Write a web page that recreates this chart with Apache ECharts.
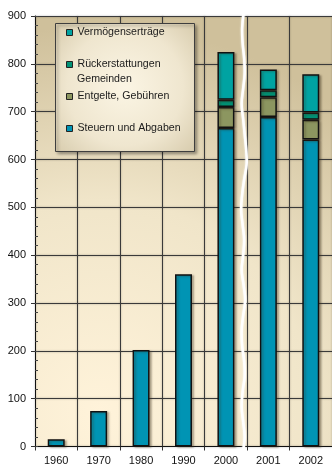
<!DOCTYPE html>
<html>
<head>
<meta charset="utf-8">
<script src="https://cdn.jsdelivr.net/npm/echarts@6/dist/echarts.min.js"></script>
<style>
  html, body { margin: 0; padding: 0; background: #ffffff; }
  #chart { width: 332px; height: 467px; }
</style>
</head>
<body>
<div id="chart"></div>
<script>
// Einnahmen nach Herkunft (Mio.)
const jahre = ['1960', '1970', '1980', '1990', '2000', '2001', '2002'];
const steuern = [15, 74, 202, 360, 666, 689, 642];
const entgelte = [null, null, null, null, 44, 41, 41];
const rueckerstattungen = [null, null, null, null, 15, 15, 15];
const vermoegen = [null, null, null, null, 100, 43, 80];
const yTicks = [0, 100, 200, 300, 400, 500, 600, 700, 800, 900];

const FONT = '"Liberation Sans", Arial, sans-serif';

const chart = echarts.init(document.getElementById('chart'), null, { renderer: 'canvas' });

function barSeries(name, data, color) {
  return {
    name: name,
    type: 'bar',
    stack: 'gesamt',
    data: data,
    barWidth: '40%',
    itemStyle: {
      color: color,
      borderColor: '#111111',
      borderWidth: 1.5,
      shadowColor: 'rgba(60,50,30,0.35)',
      shadowBlur: 2,
      shadowOffsetX: 2,
      shadowOffsetY: 1
    },
    z: 3
  };
}

const option = {
  animation: false,
  backgroundColor: '#ffffff',
  grid: {
    left: 35,
    top: 16,
    width: 298.5,
    bottom: 20.5,
    show: true,
    borderWidth: 0,
    backgroundColor: {
      type: 'radial', x: 0.22, y: 0.92, r: 1.3,
      colorStops: [
        { offset: 0, color: '#fff3da' },
        { offset: 0.55, color: '#f0e5c9' },
        { offset: 1, color: '#cfc09b' }
      ]
    }
  },
  legend: {
    orient: 'vertical',
    left: 66,
    top: 25,
    padding: 0,
    itemWidth: 6,
    itemHeight: 6,
    itemGap: 17,
    icon: 'rect',
    itemStyle: { borderColor: '#222222', borderWidth: 1 },
    textStyle: { fontFamily: FONT, fontSize: 10.6, color: '#1a1a1a', lineHeight: 15 },
    // zweite Zeile "Gemeinden" steht als eigener Text darunter
    formatter: function (name) {
      return name === 'Rückerstattungen Gemeinden' ? 'Rückerstattungen' : name;
    },
    data: ['Vermögenserträge', 'Rückerstattungen Gemeinden', 'Entgelte, Gebühren', 'Steuern und Abgaben'],
    z: 10
  },
  xAxis: {
    type: 'category',
    data: jahre,
    boundaryGap: true,
    axisLine: { lineStyle: { color: '#111111', width: 1 } },
    axisTick: { show: true, length: 4, alignWithLabel: false, lineStyle: { color: '#333333' } },
    axisLabel: { fontFamily: FONT, fontSize: 11, color: '#111111', margin: 9 },
    splitLine: {
      show: true,
      lineStyle: { color: '#3a3a3a', width: 1, shadowColor: 'rgba(0,0,0,0.35)', shadowBlur: 2 }
    }
  },
  yAxis: [
    {
      type: 'value',
      min: 0, max: 900, interval: 100,
      axisLine: { show: true, lineStyle: { color: '#111111', width: 1 } },
      axisTick: { show: true, length: 4, lineStyle: { color: '#333333' } },
      axisLabel: {
        fontFamily: FONT, fontSize: 11, color: '#111111', margin: 9,
        formatter: function (v) { return yTicks.indexOf(v) >= 0 ? String(v) : ''; }
      },
      splitLine: {
        show: true,
        lineStyle: { color: '#3a3a3a', width: 1, shadowColor: 'rgba(0,0,0,0.35)', shadowBlur: 2 }
      }
    },
    {
      // Zwischenstriche (alle 20) innen an der Achse
      type: 'value',
      min: 0, max: 900, interval: 20,
      position: 'left',
      axisLine: { show: false },
      axisTick: { show: true, inside: true, length: 3, lineStyle: { color: '#444444' } },
      axisLabel: { show: false },
      splitLine: { show: false }
    }
  ],
  series: [
    barSeries('Steuern und Abgaben', steuern, '#0094b4'),
    barSeries('Entgelte, Gebühren', entgelte, '#8c9660'),
    barSeries('Rückerstattungen Gemeinden', rueckerstattungen, '#009275'),
    barSeries('Vermögenserträge', vermoegen, '#00a3a2')
  ]
};

chart.setOption(option);

// Legendenrahmen, zweite Legendenzeile und Achsenbruch zwischen 2000 und 2001
const x2000 = chart.convertToPixel({ xAxisIndex: 0 }, '2000');
const x2001 = chart.convertToPixel({ xAxisIndex: 0 }, '2001');
const bruchX = (x2000 + x2001) / 2 - 4.5;
const yOben = chart.convertToPixel({ yAxisIndex: 0 }, 900) - 3;
const yUnten = 467;
const welle = [1, -0.5, 0, 1.5, 2, 0.5, -1, 0.5, 2, 3.5, 4, 1.5, -0.5, -1.5, 0, 1.5, 0.5, -1, 1, 2.5, 0.5, -1, -0.5, 1.5, 2, 0, -1, 0.5, 2, 0.5, 0];
const punkte = welle.map(function (d, i) {
  return [bruchX + d, yOben + (yUnten - yOben) * i / (welle.length - 1)];
});

chart.setOption({
  graphic: [
    {
      type: 'rect',
      left: 55, top: 23,
      shape: { width: 139, height: 128 },
      style: {
        fill: {
          type: 'radial', x: 0.5, y: 0.5, r: 0.75,
          colorStops: [
            { offset: 0, color: '#fbf5e4' },
            { offset: 0.6, color: '#efe6cf' },
            { offset: 1, color: '#d6caab' }
          ]
        },
        stroke: '#3e3e3e',
        lineWidth: 1,
        shadowColor: 'rgba(0,0,0,0.35)',
        shadowBlur: 3,
        shadowOffsetX: 2,
        shadowOffsetY: 2
      },
      z: 8
    },
    {
      type: 'text',
      x: 77, y: 79.5,
      style: {
        text: 'Gemeinden',
        font: '10.6px ' + FONT,
        fill: '#1a1a1a',
        verticalAlign: 'middle',
        align: 'left'
      },
      z: 11
    },
    {
      type: 'polyline',
      shape: { points: punkte, smooth: 0.4 },
      style: {
        stroke: '#ffffff',
        lineWidth: 2.5,
        fill: null,
        shadowColor: 'rgba(255,255,255,0.9)',
        shadowBlur: 2
      },
      z: 20
    }
  ]
});
</script>
</body>
</html>
